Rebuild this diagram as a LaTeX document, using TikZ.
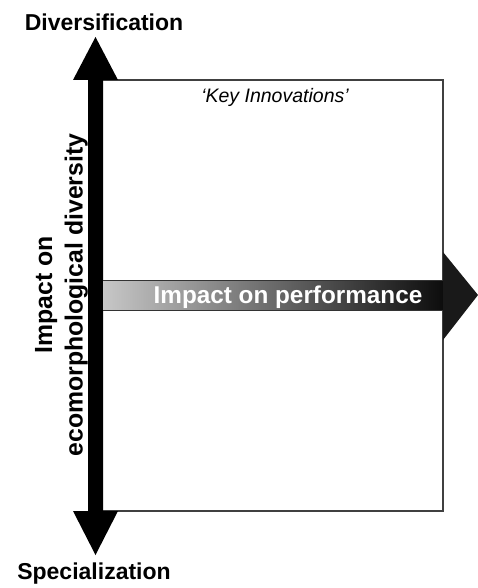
\documentclass[tikz,border=0pt]{standalone}
\usepackage{fontspec}
\setmainfont{Liberation Sans}
\usetikzlibrary{calc}

\begin{document}
\begin{tikzpicture}[x=1pt, y=-1pt,
      axislabel/.style={font=\fontsize{23}{27}\selectfont\bfseries, inner sep=0pt, anchor=base},
      sidelabel/.style={font=\fontsize{24.8}{28}\selectfont\bfseries, inner sep=0pt, anchor=base, rotate=90},
      frame/.style={draw=black!75, line width=1.6pt},
      bararrow/.style={fill=black}
    ]
    \useasboundingbox (0,0) rectangle (478,588);
    % quadrant frame
    \coordinate (tl) at (102,80);
    \coordinate (br) at (443,511);
    \draw[frame] (tl) rectangle (br);
    % vertical double arrow (diversity axis)
    \fill[bararrow] (88,80) -- (73,80) -- (95.5,37) -- (118,80) -- (103,80)
      -- (103,511) -- (118,511) -- (95.5,555) -- (73,511) -- (88,511) -- cycle;
    % horizontal arrow (performance axis)
    \shade[left color=black!22, right color=black!95] (103,280) rectangle (443,310);
    \draw[black!80, line width=0.8pt] (103,280) -- (443,280) (103,310) -- (443,310);
    \fill[black!90] (443,252) -- (478,295) -- (443,340) -- cycle;
    % labels
    \node[axislabel] (div) at (104,31) {Diversification};
    \node[axislabel] (spec) at (94,579) {Specialization};
    \node[axislabel, font=\fontsize{24.3}{27}\selectfont\bfseries, text=white] (perf) at (288,303) {Impact on performance};
    \node[anchor=base, inner sep=0pt, font=\fontsize{19.5}{22}\selectfont\itshape] (key) at (275,103) {`Key Innovations'};
    \node[sidelabel] (imp) at (52,295) {Impact on};
    \node[sidelabel] (eco) at (82.5,295) {ecomorphological diversity};
  \end{tikzpicture}
\end{document}
